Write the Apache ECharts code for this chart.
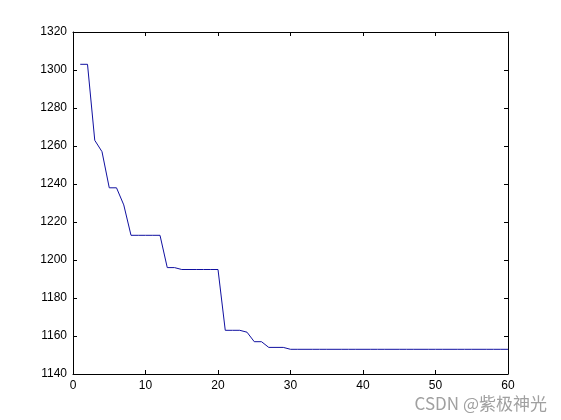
<!DOCTYPE html>
<html>
<head>
<meta charset="utf-8">
<script src="https://cdn.jsdelivr.net/npm/echarts@6/dist/echarts.min.js"></script>
<style>
  html, body { margin: 0; padding: 0; background: #fff; }
  #chart { width: 561px; height: 420px; }
</style>
</head>
<body>
<div id="chart"></div>
<script>
// iteration number and best value per iteration
const iterations = [
  1, 2, 3, 4, 5, 6, 7, 8, 9, 10,
  11, 12, 13, 14, 15, 16, 17, 18, 19, 20,
  21, 22, 23, 24, 25, 26, 27, 28, 29, 30,
  31, 32, 33, 34, 35, 36, 37, 38, 39, 40,
  41, 42, 43, 44, 45, 46, 47, 48, 49, 50,
  51, 52, 53, 54, 55, 56, 57, 58, 59, 60
];
const bestValues = [
  1303, 1303, 1263, 1257, 1238, 1238, 1229, 1213, 1213, 1213,
  1213, 1213, 1196, 1196, 1195, 1195, 1195, 1195, 1195, 1195,
  1163, 1163, 1163, 1162, 1157, 1157, 1154, 1154, 1154, 1153,
  1153, 1153, 1153, 1153, 1153, 1153, 1153, 1153, 1153, 1153,
  1153, 1153, 1153, 1153, 1153, 1153, 1153, 1153, 1153, 1153,
  1153, 1153, 1153, 1153, 1153, 1153, 1153, 1153, 1153, 1153
];
const xTicks = [0, 10, 20, 30, 40, 50, 60];
const yTicks = [1140, 1160, 1180, 1200, 1220, 1240, 1260, 1280, 1300, 1320];

const chart = echarts.init(document.getElementById('chart'));

const tickStyle = { show: true, inside: true, length: 4, lineStyle: { color: '#000', width: 1 } };
const lineStyle = { show: true, onZero: false, lineStyle: { color: '#000', width: 1 } };
const labelStyle = {
  color: '#000', fontFamily: 'Liberation Sans', fontSize: 12,
  formatter: v => String(v)
};

chart.setOption({
  animation: false,
  backgroundColor: '#fff',
  grid: { left: 73, right: 53, top: 32, bottom: 46 },
  xAxis: [
    {
      type: 'value', min: xTicks[0], max: xTicks[xTicks.length - 1], interval: 10,
      position: 'bottom',
      axisLine: lineStyle, axisTick: tickStyle,
      axisLabel: Object.assign({ margin: 6 }, labelStyle),
      splitLine: { show: false }
    },
    {
      type: 'value', min: xTicks[0], max: xTicks[xTicks.length - 1], interval: 10,
      position: 'top',
      axisLine: lineStyle, axisTick: tickStyle,
      axisLabel: { show: false }, splitLine: { show: false }
    }
  ],
  yAxis: [
    {
      type: 'value', min: yTicks[0], max: yTicks[yTicks.length - 1], interval: 20,
      position: 'left',
      axisLine: lineStyle, axisTick: tickStyle,
      axisLabel: Object.assign({ margin: 6 }, labelStyle),
      splitLine: { show: false }
    },
    {
      type: 'value', min: yTicks[0], max: yTicks[yTicks.length - 1], interval: 20,
      position: 'right',
      axisLine: lineStyle, axisTick: tickStyle,
      axisLabel: { show: false }, splitLine: { show: false }
    }
  ],
  graphic: [{
    type: 'text', right: 14, bottom: 8,
    style: {
      text: 'CSDN @紫极神光', fill: '#a0a0a0',
      font: '17px "Noto Sans CJK SC", "Liberation Sans", sans-serif'
    }
  }],
  series: [{
    type: 'line',
    data: iterations.map((x, i) => [x, bestValues[i]]),
    showSymbol: false,
    lineStyle: { color: '#1010a0', width: 1 },
    itemStyle: { color: '#1010a0' }
  }]
});
</script>
</body>
</html>
